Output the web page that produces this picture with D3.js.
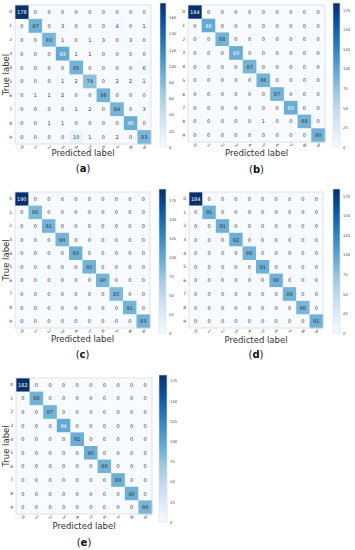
<!DOCTYPE html>
<html>
<head>
<meta charset="utf-8">
<script src="https://cdn.jsdelivr.net/npm/d3@7/dist/d3.min.js"></script>
<style>
body{margin:0;background:#fff}
text{font-family:"DejaVu Sans",sans-serif}
</style>
</head>
<body>
<svg id="chart" width="355" height="550"></svg>
<script>
// class labels
const digits = ["0","1","2","3","4","5","6","7","8","9"];

// confusion matrices, rows = true label, cols = predicted label
const cmA = [
  [178,0,0,0,0,0,0,0,0,0],
  [0,87,0,3,0,0,0,4,0,1],
  [0,0,83,1,0,1,3,0,3,0],
  [0,0,0,93,1,1,0,0,0,0],
  [0,0,0,0,85,0,0,0,0,6],
  [0,0,0,1,2,74,0,2,2,1],
  [0,1,1,2,0,0,86,0,0,0],
  [0,0,0,0,1,2,0,84,0,3],
  [0,0,1,1,0,0,0,0,90,0],
  [0,0,0,0,10,1,0,2,0,83]
];
const cmB = [
  [184,0,0,0,0,0,0,0,0,0],
  [0,96,0,0,0,0,0,0,0,0],
  [0,0,88,0,0,0,0,0,0,0],
  [0,0,0,93,0,0,0,0,0,0],
  [0,0,0,0,87,0,0,0,0,0],
  [0,0,0,0,0,88,0,0,0,0],
  [0,0,0,0,0,0,87,0,0,0],
  [0,0,0,0,0,0,0,93,0,0],
  [0,0,0,0,0,1,0,0,88,0],
  [0,0,0,0,0,0,0,0,0,90]
];
const cmC = [
  [190,0,0,0,0,0,0,0,0,0],
  [0,86,0,0,0,0,0,0,0,0],
  [0,0,91,0,0,0,0,0,0,0],
  [0,0,0,90,0,0,0,0,0,0],
  [0,0,0,0,93,0,0,0,0,0],
  [0,0,0,0,0,91,0,0,0,0],
  [0,0,0,0,0,0,90,0,0,0],
  [0,0,0,0,0,0,0,85,0,0],
  [0,0,0,0,0,0,0,0,91,0],
  [0,0,0,0,0,0,0,0,0,93]
];
const cmD = [
  [184,0,0,0,0,0,0,0,0,0],
  [0,91,0,0,0,0,0,0,0,0],
  [0,0,91,0,0,0,0,0,0,0],
  [0,0,0,92,0,0,0,0,0,0],
  [0,0,0,0,88,0,0,0,0,0],
  [0,0,0,0,0,91,0,0,0,0],
  [0,0,0,0,0,0,90,0,0,0],
  [0,0,0,0,0,0,0,88,0,0],
  [0,0,0,0,0,0,0,0,86,0],
  [0,0,0,0,0,0,0,0,0,91]
];
const cmE = [
  [182,0,0,0,0,0,0,0,0,0],
  [0,88,0,0,0,0,0,0,0,0],
  [0,0,87,0,0,0,0,0,0,0],
  [0,0,0,94,0,0,0,0,0,0],
  [0,0,0,0,91,0,0,0,0,0],
  [0,0,0,0,0,90,0,0,0,0],
  [0,0,0,0,0,0,88,0,0,0],
  [0,0,0,0,0,0,0,89,0,0],
  [0,0,0,0,0,0,0,0,90,0],
  [0,0,0,0,0,0,0,0,0,86]
];

// colorbar tick labels
const cbTicksA = [0,20,40,60,80,100,120,140,160];
const cbTicks = [0,25,50,75,100,125,150,175];

const captions = ["a","b","c","d","e"];

// layout of each panel
const panels = [
  {m:cmA, ticks:cbTicksA, x:15, y:5,   w:136, h:139, cbx:160, cby:3,   cbw:6, cbh:144, ly:152, cy:168, tx:6},
  {m:cmB, ticks:cbTicks,  x:188,y:5,   w:137, h:137, cbx:333, cby:3,   cbw:7, cbh:144, ly:152, cy:169, tx:182},
  {m:cmC, ticks:cbTicks,  x:15, y:192, w:135, h:136, cbx:159, cby:189, cbw:7, cbh:144, ly:338, cy:354, tx:6},
  {m:cmD, ticks:cbTicks,  x:189,y:192, w:134, h:136, cbx:333, cby:189, cbw:7, cbh:144, ly:339, cy:354, tx:182},
  {m:cmE, ticks:cbTicks,  x:16, y:378, w:136, h:136, cbx:159, cby:375, cbw:8, cbh:147, ly:525, cy:542, tx:6}
];

const svg = d3.select("#chart");
const blues = d3.schemeBlues[9];

svg.append("clipPath").attr("id","rightclip")
  .append("rect").attr("x",177).attr("y",0).attr("width",180).attr("height",550);

panels.forEach((p, pi) => {
  const max = d3.max(p.m.flat());
  const color = d3.scaleLinear()
    .domain(d3.range(9).map(i => max * i / 8))
    .range(blues);
  const x = d3.scaleBand().domain(digits).range([p.x, p.x + p.w]);
  const y = d3.scaleBand().domain(digits).range([p.y, p.y + p.h]);
  const g = svg.append("g");

  const cells = [];
  p.m.forEach((row, r) => row.forEach((v, c) => cells.push({r: digits[r], c: digits[c], v})));

  g.selectAll("rect.cell").data(cells).enter().append("rect")
    .attr("class","cell")
    .attr("x", d => x(d.c)).attr("y", d => y(d.r))
    .attr("width", x.bandwidth() + 0.3).attr("height", y.bandwidth() + 0.3)
    .attr("fill", d => color(d.v));

  g.append("rect").attr("x", p.x).attr("y", p.y).attr("width", p.w).attr("height", p.h)
    .attr("fill","none").attr("stroke","#d8dde3").attr("stroke-width",0.8);

  g.selectAll("text.val").data(cells).enter().append("text")
    .attr("class","val")
    .attr("x", d => x(d.c) + x.bandwidth() / 2)
    .attr("y", d => y(d.r) + y.bandwidth() / 2)
    .attr("text-anchor","middle").attr("dominant-baseline","central")
    .attr("font-size", 5)
    .attr("fill", d => d.v > max / 2 ? "#ffffff" : "#333333")
    .text(d => d.v);

  // axes
  const yAxis = g.append("g").attr("transform", `translate(${p.x},0)`)
    .call(d3.axisLeft(y).tickSize(0).tickPadding(3));
  const xAxis = g.append("g").attr("transform", `translate(0,${p.y + p.h})`)
    .call(d3.axisBottom(x).tickSize(0).tickPadding(1.5));
  [yAxis, xAxis].forEach(a => {
    a.select(".domain").remove();
    a.selectAll("text").attr("font-size", 4.5).attr("fill","#444");
  });
  xAxis.selectAll("text")
    .attr("transform", function() {
      const t = d3.select(this);
      return `rotate(45, 0, ${+t.attr("y") + 2})`;
    });

  g.append("text")
    .attr("x", p.x + p.w / 2).attr("y", p.ly + 3.5)
    .attr("text-anchor","middle").attr("font-size", 8.5).attr("fill","#333")
    .text("Predicted label");

  const tl = g.append("text")
    .attr("transform", `translate(${p.tx + 3},${p.y + p.h / 2}) rotate(-90)`)
    .attr("text-anchor","middle").attr("font-size", 8.5).attr("fill","#333")
    .text("True label");
  if (p.tx > 170) tl.attr("clip-path","url(#rightclip)");

  // colorbar
  const cs = d3.scaleLinear().domain([0, max]).range([p.cby + p.cbh, p.cby]);
  const gradId = "grad" + pi;
  const grad = svg.append("defs").append("linearGradient").attr("id", gradId)
    .attr("x1","0").attr("y1","1").attr("x2","0").attr("y2","0");
  blues.forEach((c, i) => grad.append("stop").attr("offset", i / 8).attr("stop-color", c));
  g.append("rect").attr("x", p.cbx).attr("y", p.cby).attr("width", p.cbw).attr("height", p.cbh)
    .attr("fill", `url(#${gradId})`).attr("stroke","#d8dde3").attr("stroke-width",0.6);
  const cAxis = g.append("g").attr("transform", `translate(${p.cbx + p.cbw},0)`)
    .call(d3.axisRight(cs).tickValues(p.ticks).tickSize(0).tickPadding(3));
  cAxis.select(".domain").remove();
  cAxis.selectAll("text").attr("font-size", 3.8).attr("fill","#444");

  // caption
  const cap = g.append("text")
    .attr("x", p.x + p.w / 2).attr("y", p.cy + 4)
    .attr("text-anchor","middle").attr("font-size", 10)
    .attr("font-family","DejaVu Serif, serif").attr("fill","#111");
  cap.append("tspan").text("(");
  cap.append("tspan").attr("font-weight","bold").text(captions[pi]);
  cap.append("tspan").text(")");
});
</script>
</body>
</html>
